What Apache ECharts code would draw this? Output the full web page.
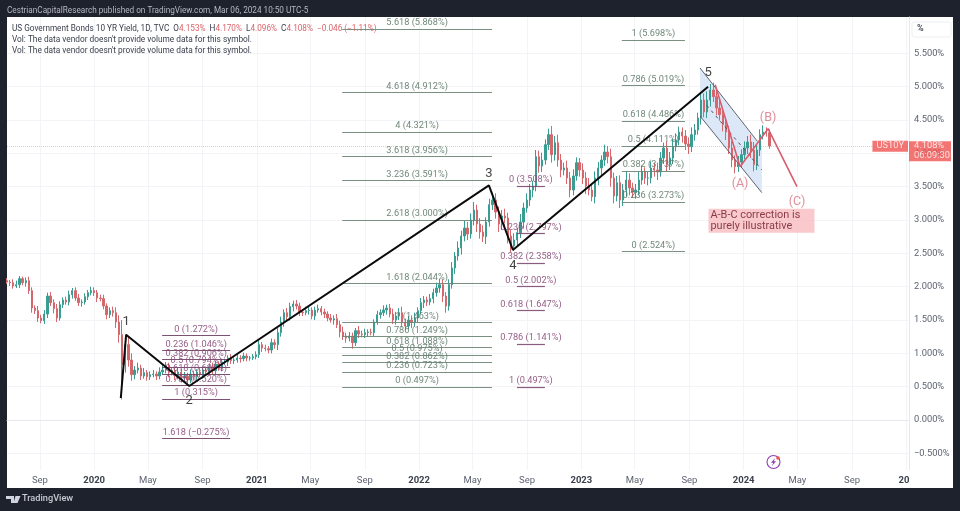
<!DOCTYPE html>
<html><head><meta charset="utf-8">
<style>html,body{margin:0;padding:0;background:#1e222d}#c{width:960px;height:511px}</style>
<script src="https://cdn.jsdelivr.net/npm/echarts@6/dist/echarts.min.js"></script>
</head><body><div id="c"></div>
<script>
const firstWeek = '2019-06-19';
const closes = [2.07,2.06,2.01,2.03,2.12,2.06,2.09,1.94,1.68,1.64,1.53,1.49,1.59,1.86,1.76,1.67,1.53,1.73,1.80,1.77,
1.88,1.94,1.83,1.76,1.77,1.85,1.91,1.94,1.91,1.83,1.82,1.71,1.58,1.64,1.61,1.47,1.28,0.83,1.13,0.90,
0.68,0.75,0.78,0.66,0.71,0.65,0.68,0.69,0.66,0.72,0.75,0.81,0.71,0.74,0.66,0.72,0.63,0.66,0.60,0.69,
0.65,0.72,0.68,0.75,0.72,0.80,0.74,0.84,0.78,0.87,0.87,0.93,0.89,0.90,0.93,0.92,0.96,0.93,0.93,0.95,
0.98,1.13,1.08,1.07,1.05,1.16,1.13,1.31,1.47,1.61,1.55,1.70,1.74,1.71,1.62,1.61,1.64,1.65,1.56,1.65,
1.67,1.62,1.59,1.53,1.50,1.52,1.43,1.32,1.26,1.23,1.26,1.16,1.34,1.29,1.28,1.31,1.32,1.31,1.47,1.58,
1.61,1.65,1.68,1.59,1.50,1.56,1.61,1.47,1.41,1.50,1.46,1.53,1.64,1.76,1.80,1.77,1.82,1.91,1.98,2.03,
1.86,1.71,2.03,2.28,2.46,2.58,2.76,2.88,2.79,3.00,3.15,2.94,2.82,2.75,2.97,3.23,3.30,3.12,2.94,3.06,
3.03,2.76,2.61,2.70,2.81,2.97,3.18,3.30,3.45,3.51,3.95,3.81,3.90,4.13,4.28,3.98,4.16,3.90,3.75,3.78,
3.63,3.45,3.66,3.86,3.75,3.63,3.51,3.45,3.35,3.63,3.78,3.90,4.02,3.95,3.63,3.36,3.56,3.30,3.45,3.60,
3.48,3.42,3.45,3.60,3.72,3.63,3.63,3.78,3.75,3.72,3.93,4.08,3.83,3.93,4.10,4.20,4.32,4.26,4.14,4.10,
4.28,4.35,4.53,4.80,4.62,4.80,4.95,4.85,4.68,4.58,4.43,4.32,4.08,3.90,3.80,3.87,3.98,4.08,4.17,4.05,
3.83,4.05,4.28,4.32,4.31,4.11];
const upperWicks = [.04,.03,.05,.06,.04,.03,.05,.06,.05,.04,.07,.05,.06,.05,.06,.05,.07,.05,.04,.05,
.06,.04,.05,.06,.04,.05,.04,.06,.05,.04,.05,.06,.04,.05,.06,.08,.10,.22,.14,.12,
.10,.06,.08,.05,.07,.04,.05,.06,.04,.07,.09,.06,.05,.05,.04,.06,.05,.06,.05,.07,
.05,.04,.06,.05,.04,.05,.06,.05,.04,.05,.05,.04,.06,.04,.05,.04,.05,.04,.03,.04,
.05,.06,.04,.05,.04,.06,.05,.07,.08,.05,.07,.06,.05,.06,.05,.04,.06,.05,.04,.05,
.06,.04,.05,.04,.06,.05,.07,.06,.08,.05,.06,.05,.04,.07,.05,.06,.04,.05,.04,.06,
.05,.07,.05,.06,.08,.06,.07,.09,.05,.06,.07,.08,.05,.07,.06,.05,.07,.06,.08,.09,
.07,.06,.08,.09,.06,.10,.08,.11,.09,.10,.12,.08,.09,.10,.07,.09,.11,.10,.08,.09,
.11,.08,.09,.10,.07,.12,.08,.10,.09,.08,.10,.09,.11,.08,.09,.13,.10,.12,.09,.08,
.11,.09,.10,.08,.07,.10,.09,.12,.08,.10,.09,.07,.11,.09,.12,.08,.10,.11,.09,.13,
.10,.08,.09,.12,.10,.07,.09,.10,.08,.11,.09,.08,.10,.09,.12,.10,.08,.07,.09,.10,
.11,.09,.08,.12,.10,.13,.09,.11,.10,.12,.11,.08,.09,.10,.07,.09,.08,.10,.09,.11,
.12,.09,.08,.10,.07,.05];
const lowerWicks = [.03,.05,.04,.03,.05,.04,.06,.05,.07,.05,.06,.04,.05,.06,.05,.07,.06,.04,.05,.04,
.05,.06,.04,.05,.06,.04,.05,.04,.05,.06,.04,.05,.07,.05,.06,.09,.12,.52,.12,.10,
.09,.07,.05,.06,.04,.06,.05,.04,.06,.05,.04,.05,.07,.04,.06,.05,.07,.04,.06,.05,
.06,.05,.04,.06,.05,.04,.05,.06,.04,.05,.04,.06,.05,.05,.04,.06,.04,.05,.04,.03,
.04,.05,.06,.04,.05,.05,.06,.08,.06,.07,.05,.06,.07,.05,.06,.05,.04,.06,.05,.06,
.04,.05,.06,.05,.04,.07,.05,.08,.06,.07,.05,.09,.05,.06,.04,.05,.06,.04,.05,.04,
.06,.05,.07,.05,.06,.07,.06,.08,.07,.05,.08,.06,.07,.05,.08,.06,.05,.07,.06,.07,
.09,.10,.07,.06,.09,.07,.10,.08,.09,.07,.08,.12,.10,.08,.11,.07,.08,.10,.12,.09,
.08,.11,.10,.07,.09,.08,.10,.07,.09,.11,.08,.10,.09,.07,.08,.12,.09,.10,.11,.08,
.09,.11,.08,.07,.10,.09,.12,.08,.07,.10,.11,.12,.09,.10,.13,.11,.08,.12,.09,.10,
.11,.09,.10,.08,.07,.09,.11,.08,.10,.12,.07,.09,.10,.08,.09,.07,.08,.10,.09,.11,
.08,.09,.07,.10,.08,.09,.10,.08,.11,.09,.10,.12,.09,.11,.10,.08,.09,.07,.08,.12,
.10,.08,.09,.07,.06,.04];

const xTickDates = ['2019-09-01','2020-01-01','2020-05-01','2020-09-01','2021-01-01','2021-05-01','2021-09-01','2022-01-01','2022-05-01','2022-09-01','2023-01-01','2023-05-01','2023-09-01','2024-01-01','2024-05-01','2024-09-01','2025-01-01'];
const xTickLabels = ['Sep','2020','May','Sep','2021','May','Sep','2022','May','Sep','2023','May','Sep','2024','May','Sep','20'];
const yTicks = [-0.5,0,0.5,1,1.5,2,2.5,3,3.5,4,4.5,5,5.5];

const fibPurpleA = {from:'2020-06-02',to:'2020-11-02',levels:[1.272,1.046,0.906,0.794,0.681,0.520,0.315,-0.275],
  names:['0 (1.272%)','0.236 (1.046%)','0.382 (0.906%)','0.5 (0.794%)','0.618 (0.681%)','0.786 (0.520%)','1 (0.315%)','1.618 (−0.275%)']};
const fibGreenB = {from:'2021-07-12',to:'2022-06-14',levels:[0.497,0.723,0.862,0.975,1.088,1.249,1.463,2.044,3.000,3.591,3.956,4.321,4.912,5.868],
  names:['0 (0.497%)','0.236 (0.723%)','0.382 (0.862%)','0.5 (0.975%)','0.618 (1.088%)','0.786 (1.249%)','1 (1.463%)','1.618 (2.044%)','2.618 (3.000%)','3.236 (3.591%)','3.618 (3.956%)','4 (4.321%)','4.618 (4.912%)','5.618 (5.868%)']};
const fibPurpleC = {from:'2022-08-09',to:'2022-10-11',levels:[3.508,2.797,2.358,2.002,1.647,1.141,0.497],
  names:['0 (3.508%)','0.236 (2.797%)','0.382 (2.358%)','0.5 (2.002%)','0.618 (1.647%)','0.786 (1.141%)','1 (0.497%)']};
const fibGreenD = {from:'2023-04-02',to:'2023-08-22',levels:[2.524,3.273,3.737,4.111,4.486,5.019,5.698],
  names:['0 (2.524%)','0.236 (3.273%)','0.382 (3.737%)','0.5 (4.111%)','0.618 (4.486%)','0.786 (5.019%)','1 (5.698%)']};

const wavePoints = [['2020-03-01',0.33],['2020-03-13',1.28],['2020-08-02',0.51],['2022-06-07',3.52],['2022-07-31',2.55],['2023-10-13',5.00]];
const waveNames = [['2020-03-13',1.47,'1'],['2020-08-02',0.29,'2'],['2022-06-07',3.69,'3'],['2022-07-31',2.31,'4'],['2023-10-13',5.21,'5']];
const abcPoints = [['2023-10-29',5.03],['2023-12-24',3.80],['2024-02-25',4.37],['2024-04-30',3.50]];
const abcNames = [['2023-12-24',3.54,'(A)'],['2024-02-25',4.53,'(B)'],['2024-04-30',3.27,'(C)']];
const channelFill = [['2023-09-25',5.28],['2024-02-11',4.08],['2024-02-11',3.41],['2023-09-25',4.56]];
const channelUpper = [['2023-09-25',5.28],['2024-02-01',4.18]];
const channelLower = [['2023-09-25',4.56],['2024-02-11',3.41]];
const channelMiddle = [['2023-10-10',4.72],['2024-02-11',3.75]];
const lastPrice = 4.108;
const xMin = '2019-06-19', xMax = '2025-01-07';

const FONT = 'Roboto';
const t = s => Date.parse(s + 'T00:00:00Z');
const DAY = 864e5;
const candles = closes.map((c, i) => {
  const o = i ? closes[i - 1] : c + 0.02;
  return [t(firstWeek) + i * 7 * DAY, o, c,
    +(Math.min(o, c) - lowerWicks[i]).toFixed(3), +(Math.max(o, c) + upperWicks[i]).toFixed(3)];
});
const xTicksMs = xTickDates.map(t);
const pts = a => a.map(p => [t(p[0]), p[1]]);

function fibSeries(set, color, lblColor) {
  return {
    type: 'line', data: [], z: 3, silent: true, symbol: 'none',
    markLine: {
      silent: true, symbol: 'none', animation: false,
      lineStyle: {color, width: 1.2, type: 'solid', opacity: .9},
      data: set.levels.map((v, i) => [
        {coord: [t(set.from), v], label: {show: true, formatter: set.names[i], position: 'insideMiddleTop', distance: 1.5,
          color: lblColor, fontSize: 9.2, fontFamily: FONT, letterSpacing: .15}},
        {coord: [t(set.to), v]}
      ])
    }
  };
}
function textPoints(rows, color, size) {
  return {
    type: 'scatter', z: 6, silent: true, symbolSize: 0, clip: false,
    data: rows.map(r => ({value: [t(r[0]), r[1]], label: {show: true, formatter: r[2], position: 'inside', color,
      fontSize: size, fontFamily: FONT}}))
  };
}
const thinLine = (data, color, width, type) => ({type: 'line', data: pts(data), z: 5, silent: true, symbol: 'none',
  lineStyle: {color, width, type: type || 'solid'}});

const chart = echarts.init(document.getElementById('c'), null, {renderer: 'canvas'});
chart.setOption({
  animation: false,
  backgroundColor: '#1e222d',
  textStyle: {fontFamily: FONT},
  grid: {left: 7, right: 51, top: 17, bottom: 41},
  xAxis: {
    type: 'value', min: t(xMin), max: t(xMax), scale: true,
    axisLine: {show: true, lineStyle: {color: '#e6e8ee'}},
    axisTick: {show: false, customValues: xTicksMs},
    splitLine: {show: true, lineStyle: {color: '#f3f4f7', width: 1}},
    axisLabel: {
      customValues: xTicksMs, margin: 6, hideOverlap: false,
      formatter: v => {
        const s = xTickLabels[xTicksMs.indexOf(+v)];
        if (s === '20') return '{yr|20  }';
        return /^\d/.test(s) ? '{yr|' + s + '}' : '{mo|' + s + '}';
      },
      rich: {
        yr: {fontSize: 9.5, fontWeight: 700, color: '#3b404c', fontFamily: FONT},
        mo: {fontSize: 9.5, color: '#5d6370', fontFamily: FONT}
      }
    }
  },
  yAxis: {
    type: 'value', position: 'right', min: -0.75, max: 6.045, scale: true,
    axisLine: {show: true, lineStyle: {color: '#e6e8ee'}},
    axisTick: {show: false, customValues: yTicks},
    splitLine: {show: true, lineStyle: {color: '#f3f4f7', width: 1}},
    axisLabel: {
      customValues: yTicks, margin: 5, color: '#5d6370', fontSize: 9.3, fontFamily: FONT,
      formatter: v => (v < 0 ? '−' + (-v).toFixed(3) : (+v).toFixed(3)) + '%'
    }
  },
  series: [
    {type: 'custom', z: 1, silent: true, data: [0],
      renderItem: (p, api) => ({type: 'polygon',
        shape: {points: channelFill.map(c => api.coord([t(c[0]), c[1]]))},
        style: {fill: '#dce8f8'}})},
    {type: 'candlestick', z: 2, silent: true, barWidth: 1.8,
      itemStyle: {color: '#3a9d92', color0: '#d4686c', borderColor: '#3a9d92', borderColor0: '#d4686c', borderWidth: 1},
      encode: {x: 0, y: [1, 2, 3, 4]}, data: candles,
      markLine: {silent: true, symbol: 'none', animation: false,
        lineStyle: {color: '#ef5350', opacity: .35, width: 1, type: 'dotted'},
        label: {show: false}, data: [{yAxis: lastPrice}]}},
    fibSeries(fibPurpleA, '#6e3f63', '#8a4d7a'),
    fibSeries(fibGreenB, '#6c8574', '#5f7a6a'),
    fibSeries(fibPurpleC, '#7d4a70', '#8a4d7a'),
    fibSeries(fibGreenD, '#6c8574', '#5f7a6a'),
    thinLine(channelUpper, '#5d6370', 1),
    thinLine(channelLower, '#5d6370', 1),
    thinLine(channelMiddle, '#4a4f5a', 1, [3, 4]),
    thinLine(abcPoints, '#d95c6c', 1.6),
    thinLine(wavePoints, '#0b0b0b', 2),
    textPoints(waveNames, '#111111', 13),
    textPoints(abcNames, '#d9707e', 12.5),
    {type: 'scatter', z: 7, silent: true, symbolSize: 0, clip: false,
      data: [{value: [t('2023-10-14'), 2.99], label: {show: true, position: 'right', distance: 0,
        formatter: 'A-B-C correction is\npurely illustrative', color: '#6b1520', fontSize: 10.9, lineHeight: 10.5,
        fontFamily: FONT, align: 'left', backgroundColor: '#f8bcc0', padding: [2, 10, 1, 2], width: 94}}]},
    {type: 'scatter', z: 8, silent: true, symbolSize: 0, clip: false,
      data: [
        {value: [t(xMax), lastPrice], label: {show: true, position: 'right', distance: 0, offset: [0, 5],
          formatter: '4.108%\n{t|06:09:30}', color: '#fff', fontSize: 9.3, lineHeight: 10, fontFamily: FONT,
          backgroundColor: '#ef5350', padding: [0, 3, 0, 5], width: 34, height: 20,
          rich: {t: {color: '#fff', fontSize: 9.3, lineHeight: 10, fontFamily: FONT}}}},
        {value: [t(xMax), lastPrice], label: {show: true, position: 'left', distance: 1,
          formatter: 'US10Y', color: '#fff', fontSize: 9.3, fontFamily: FONT,
          backgroundColor: '#ef5350', padding: [1, 4, 1, 4]}}
      ]}
  ],
  graphic: {elements: [
    {type: 'rect', z: -100, silent: true, shape: {x: 7, y: 17, width: 946, height: 471}, style: {fill: '#ffffff'}},
    {type: 'text', z: 100, silent: true, x: 7, y: 7, style: {text: 'CestrianCapitalResearch published on TradingView.com, Mar 06, 2024 10:50 UTC-5',
      fill: '#b4b7c0', font: '8.2px ' + FONT}},
    {type: 'text', z: 100, silent: true, x: 12, y: 25, style: {
      text: 'US Government Bonds 10 YR Yield, 1D, TVC  {k|O}{r|4.153%}  {k|H}{r|4.170%}  {k|L}{r|4.096%}  {k|C}{r|4.108%}  {r|−0.046 (−1.11%)}',
      fill: '#3b404c', font: '8.2px ' + FONT,
      rich: {k: {fill: '#3b404c', font: '8.2px ' + FONT}, r: {fill: '#d9656a', font: '8.2px ' + FONT}}}},
    {type: 'text', z: 100, silent: true, x: 12, y: 36, style: {text: "Vol: The data vendor doesn't provide volume data for this symbol.", fill: '#3b404c', font: '8.3px ' + FONT}},
    {type: 'text', z: 100, silent: true, x: 12, y: 47, style: {text: "Vol: The data vendor doesn't provide volume data for this symbol.", fill: '#3b404c', font: '8.3px ' + FONT}},
    {type: 'rect', z: 100, silent: true, shape: {x: 912, y: 22, width: 39, height: 15, r: 2}, style: {fill: '#fff', stroke: '#eceef2', lineWidth: 1}},
    {type: 'text', z: 101, silent: true, x: 917, y: 24, style: {text: '%', fill: '#4a4f5a', font: '700 9px ' + FONT}},
    {type: 'circle', z: 100, silent: true, shape: {cx: 773.5, cy: 462, r: 6.5}, style: {fill: '#fff', stroke: '#8e3fb0', lineWidth: 1.1}},
    {type: 'polygon', z: 101, silent: true, shape: {points: [[775, 458], [771, 462.8], [773.2, 462.8], [772, 466], [776, 461.2], [773.8, 461.2]]}, style: {fill: '#8e3fb0'}},
    {type: 'circle', z: 102, silent: true, shape: {cx: 778, cy: 458, r: 1.8}, style: {fill: '#ef5350'}},
    {type: 'polygon', z: 100, silent: true, shape: {points: [[6, 496], [14, 496], [14, 503], [11, 503], [11, 499], [6, 499]]}, style: {fill: '#d1d4dc'}},
    {type: 'polygon', z: 100, silent: true, shape: {points: [[15.5, 496], [20.5, 496], [17.5, 503], [13.5, 503]]}, style: {fill: '#d1d4dc'}},
    {type: 'text', z: 100, silent: true, x: 22, y: 494, style: {text: 'TradingView', fill: '#c8cbd3', font: '500 9.2px ' + FONT}}
  ]}
});
</script></body></html>
